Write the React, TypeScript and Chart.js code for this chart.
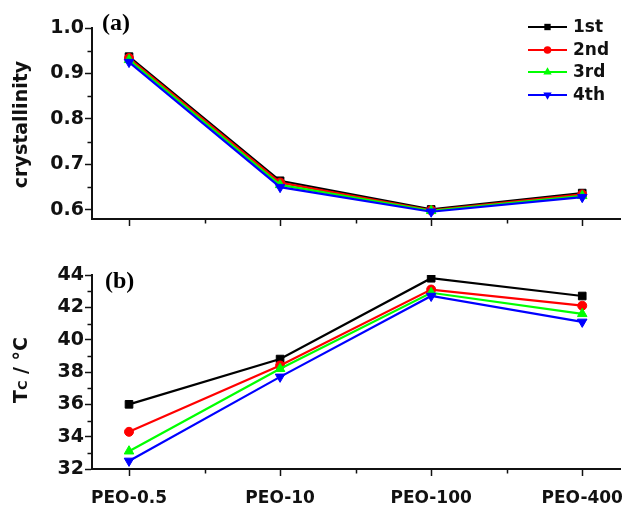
import React, { useEffect, useRef } from 'react';
import { Chart, registerables } from 'chart.js';

Chart.register(...registerables);

// ---------- data ----------
const categories = ['PEO-0.5', 'PEO-10', 'PEO-100', 'PEO-400'];
const seriesNames = ['1st', '2nd', '3rd', '4th'];

const crystallinity1st = [0.937, 0.664, 0.601, 0.637];
const crystallinity2nd = [0.934, 0.660, 0.599, 0.634];
const crystallinity3rd = [0.930, 0.655, 0.598, 0.631];
const crystallinity4th = [0.925, 0.650, 0.596, 0.628];

const tc1st = [36.0, 38.8, 43.8, 42.7];
const tc2nd = [34.3, 38.4, 43.1, 42.1];
const tc3rd = [33.1, 38.2, 42.9, 41.6];
const tc4th = [32.5, 37.7, 42.7, 41.1];

const crystallinityTicks = [0.6, 0.7, 0.8, 0.9, 1.0];
const tcTicks = [32, 34, 36, 38, 40, 42, 44];
const xTickValues = [0, 1, 2, 3];

// ---------- styles ----------
const colors = ['#000000', '#ff0000', '#00ff00', '#0000ff'];
const pointStyles = ['rect', 'circle', 'triangle', 'triangle'];
const pointRotations = [0, 0, 0, 180];
const pointRadii = [5.4, 4.5, 5.5, 5.5];
const legendRadii = [4.5, 3.8, 4.8, 4.8];
const AXIS = '#111111';
const SANS = "'DejaVu Sans', sans-serif";
const SERIF = "'Liberation Serif', 'Times New Roman', serif";

const midpoints = (arr: number[]) => arr.slice(1).map((v, i) => (v + arr[i]) / 2);

function drawMarker(ctx: CanvasRenderingContext2D, style: string, x: number, y: number, r: number, rot: number) {
  ctx.beginPath();
  if (style === 'rect') {
    const s = r * Math.SQRT1_2;
    ctx.rect(x - s, y - s, 2 * s, 2 * s);
  } else if (style === 'circle') {
    ctx.arc(x, y, r, 0, Math.PI * 2);
  } else {
    for (let i = 0; i < 3; i++) {
      const a = (rot * Math.PI) / 180 + (i * 2 * Math.PI) / 3;
      const px = x + Math.sin(a) * r;
      const py = y - Math.cos(a) * r;
      if (i === 0) ctx.moveTo(px, py);
      else ctx.lineTo(px, py);
    }
    ctx.closePath();
  }
  ctx.fill();
}

interface PanelSpec {
  key: string;
  series: number[][];
  yMin: number;
  yMax: number;
  yTicks: number[];
  yDecimals: number;
  padTop: number;
  xHeight: number;
  showXLabels: boolean;
  panelLabel: string;
  labelX: number;
  labelY: number;
  legend: boolean;
  title: 'cryst' | 'tc';
  titleShift: number;
}

const topPanel: PanelSpec = {
  key: 'a',
  series: [crystallinity1st, crystallinity2nd, crystallinity3rd, crystallinity4th],
  yMin: 0.58,
  yMax: 1.0,
  yTicks: crystallinityTicks,
  yDecimals: 1,
  padTop: 28,
  xHeight: 21,
  showXLabels: false,
  panelLabel: '(a)',
  labelX: 102,
  labelY: 30,
  legend: true,
  title: 'cryst',
  titleShift: 1,
};

const bottomPanel: PanelSpec = {
  key: 'b',
  series: [tc1st, tc2nd, tc3rd, tc4th],
  yMin: 32,
  yMax: 44,
  yTicks: tcTicks,
  yDecimals: 0,
  padTop: 35,
  xHeight: 38,
  showXLabels: true,
  panelLabel: '(b)',
  labelX: 105,
  labelY: 48,
  legend: false,
  title: 'tc',
  titleShift: -2,
};

function makePlugin(p: PanelSpec) {
  return {
    id: 'decor_' + p.key,
    afterDraw(chart: any) {
      const ctx: CanvasRenderingContext2D = chart.ctx;
      const area = chart.chartArea;
      const xs = chart.scales.x;
      const ys = chart.scales.y;
      ctx.save();

      // minor ticks
      ctx.strokeStyle = AXIS;
      ctx.lineWidth = 1.5;
      ctx.beginPath();
      midpoints(xTickValues).forEach((v) => {
        const px = Math.round(xs.getPixelForValue(v)) + 0.5;
        ctx.moveTo(px, area.bottom);
        ctx.lineTo(px, area.bottom + 4.5);
      });
      midpoints(p.yTicks).forEach((v) => {
        const py = Math.round(ys.getPixelForValue(v)) + 0.5;
        ctx.moveTo(area.left, py);
        ctx.lineTo(area.left - 4.5, py);
      });
      ctx.stroke();

      // panel label
      ctx.fillStyle = '#000';
      ctx.font = `bold 24px ${SERIF}`;
      ctx.textAlign = 'left';
      ctx.textBaseline = 'alphabetic';
      ctx.fillText(p.panelLabel, p.labelX, p.labelY);

      // y-axis title
      const cy = (area.top + area.bottom) / 2 + p.titleShift;
      ctx.save();
      ctx.translate(27, cy);
      ctx.rotate(-Math.PI / 2);
      ctx.fillStyle = AXIS;
      ctx.textBaseline = 'alphabetic';
      if (p.title === 'cryst') {
        ctx.font = `bold 19px ${SANS}`;
        ctx.textAlign = 'center';
        ctx.fillText('crystallinity', 0, 0);
      } else {
        const big = `bold 19px ${SANS}`;
        const small = `bold 13px ${SANS}`;
        ctx.textAlign = 'left';
        ctx.font = big;
        const wT = ctx.measureText('T').width;
        const wRest = ctx.measureText(' / °C').width;
        ctx.font = small;
        const wC = ctx.measureText('C').width;
        const total = wT + wC + wRest;
        let x = -total / 2;
        ctx.font = big;
        ctx.fillText('T', x, 0);
        x += wT;
        ctx.font = small;
        ctx.fillText('C', x, 0);
        x += wC;
        ctx.font = big;
        ctx.fillText(' / °C', x, 0);
      }
      ctx.restore();

      // legend
      if (p.legend) {
        const rows = [27, 50, 72, 95];
        ctx.font = `bold 17px ${SANS}`;
        ctx.textAlign = 'left';
        ctx.textBaseline = 'middle';
        seriesNames.forEach((name, i) => {
          const y = rows[i];
          ctx.strokeStyle = colors[i];
          ctx.fillStyle = colors[i];
          ctx.lineWidth = 2.2;
          ctx.beginPath();
          ctx.moveTo(528, y);
          ctx.lineTo(567, y);
          ctx.stroke();
          drawMarker(ctx, pointStyles[i], 547.5, y, legendRadii[i], pointRotations[i]);
          ctx.fillStyle = AXIS;
          ctx.fillText(name, 573, y + 1);
        });
      }
      ctx.restore();
    },
  };
}

function makeConfig(p: PanelSpec): any {
  const tickFont = { family: SANS, weight: 'bold' as const, size: 19 };
  return {
    type: 'line',
    data: {
      datasets: p.series.map((vals, i) => ({
        label: seriesNames[i],
        data: vals.map((v, j) => ({ x: j, y: v })),
        borderColor: colors[i],
        backgroundColor: colors[i],
        borderWidth: 2.2,
        pointStyle: pointStyles[i],
        pointRotation: pointRotations[i],
        pointRadius: pointRadii[i],
        pointBorderWidth: 1,
        pointBackgroundColor: colors[i],
        pointBorderColor: colors[i],
        tension: 0,
        order: 3 - i,
      })),
    },
    options: {
      responsive: false,
      animation: false,
      events: [],
      layout: { padding: { left: 0, right: 7, top: p.padTop, bottom: 0 } },
      plugins: { legend: { display: false }, tooltip: { enabled: false } },
      scales: {
        x: {
          type: 'linear',
          min: -0.245,
          max: 3.25,
          afterBuildTicks: (s: any) => {
            s.ticks = xTickValues.map((v) => ({ value: v }));
          },
          afterFit: (s: any) => {
            s.height = p.xHeight;
            s.paddingLeft = 0;
            s.paddingRight = 0;
            s.paddingTop = 0;
            s.paddingBottom = 0;
          },
          ticks: {
            autoSkip: false,
            maxRotation: 0,
            minRotation: 0,
            padding: 12,
            color: AXIS,
            font: { family: SANS, weight: 'bold', size: 17 },
            callback: (v: number) => (p.showXLabels ? categories[v] ?? '' : ''),
          },
          grid: { drawOnChartArea: false, drawTicks: true, tickLength: 7, tickWidth: 1.5, tickColor: AXIS },
          border: { display: true, width: 2, color: AXIS },
        },
        y: {
          type: 'linear',
          min: p.yMin,
          max: p.yMax,
          afterBuildTicks: (s: any) => {
            s.ticks = p.yTicks.map((v) => ({ value: v }));
          },
          afterFit: (s: any) => {
            s.width = 92;
            s.paddingTop = 0;
            s.paddingBottom = 0;
            s.paddingLeft = 0;
            s.paddingRight = 0;
          },
          ticks: {
            padding: 1,
            color: AXIS,
            font: tickFont,
            callback: (v: number) => v.toFixed(p.yDecimals),
          },
          grid: { drawOnChartArea: false, drawTicks: true, tickLength: 7, tickWidth: 1.5, tickColor: AXIS },
          border: { display: true, width: 2, color: AXIS },
        },
      },
    },
    plugins: [makePlugin(p)],
  };
}

export default function App() {
  const topRef = useRef<HTMLCanvasElement>(null);
  const botRef = useRef<HTMLCanvasElement>(null);

  useEffect(() => {
    const c1 = new Chart(topRef.current as HTMLCanvasElement, makeConfig(topPanel));
    const c2 = new Chart(botRef.current as HTMLCanvasElement, makeConfig(bottomPanel));
    return () => {
      c1.destroy();
      c2.destroy();
    };
  }, []);

  return (
    <div style={{ position: 'absolute', left: 0, top: 0, width: 627, height: 507, background: '#fff' }}>
      <canvas ref={topRef} width={627} height={240} style={{ position: 'absolute', left: 0, top: 0 }} />
      <canvas ref={botRef} width={627} height={267} style={{ position: 'absolute', left: 0, top: 240 }} />
    </div>
  );
}
